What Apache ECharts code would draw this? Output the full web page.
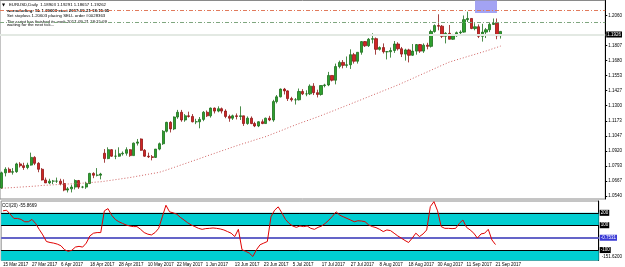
<!DOCTYPE html>
<html><head><meta charset="utf-8">
<script src="https://cdn.jsdelivr.net/npm/echarts@6/dist/echarts.min.js"></script>
<style>html,body{margin:0;padding:0;background:#fff;}#c{width:625px;height:267px;}</style>
</head><body><div id="c"></div>
<script>
const dates = [
'15 Mar 2017','16 Mar 2017','17 Mar 2017','20 Mar 2017','21 Mar 2017','22 Mar 2017','23 Mar 2017','24 Mar 2017','27 Mar 2017','28 Mar 2017','29 Mar 2017','30 Mar 2017','31 Mar 2017',
'3 Apr 2017','4 Apr 2017','5 Apr 2017','6 Apr 2017','7 Apr 2017','10 Apr 2017','11 Apr 2017','12 Apr 2017','13 Apr 2017','14 Apr 2017','17 Apr 2017','18 Apr 2017','19 Apr 2017','20 Apr 2017','21 Apr 2017','24 Apr 2017','25 Apr 2017','26 Apr 2017','27 Apr 2017','28 Apr 2017',
'1 May 2017','2 May 2017','3 May 2017','4 May 2017','5 May 2017','8 May 2017','9 May 2017','10 May 2017','11 May 2017','12 May 2017','15 May 2017','16 May 2017','17 May 2017','18 May 2017','19 May 2017','22 May 2017','23 May 2017','24 May 2017','25 May 2017','26 May 2017','29 May 2017','30 May 2017','31 May 2017',
'1 Jun 2017','2 Jun 2017','5 Jun 2017','6 Jun 2017','7 Jun 2017','8 Jun 2017','9 Jun 2017','12 Jun 2017','13 Jun 2017','14 Jun 2017','15 Jun 2017','16 Jun 2017','19 Jun 2017','20 Jun 2017','21 Jun 2017','22 Jun 2017','23 Jun 2017','26 Jun 2017','27 Jun 2017','28 Jun 2017','29 Jun 2017','30 Jun 2017',
'3 Jul 2017','4 Jul 2017','5 Jul 2017','6 Jul 2017','7 Jul 2017','10 Jul 2017','11 Jul 2017','12 Jul 2017','13 Jul 2017','14 Jul 2017','17 Jul 2017','18 Jul 2017','19 Jul 2017','20 Jul 2017','21 Jul 2017','24 Jul 2017','25 Jul 2017','26 Jul 2017','27 Jul 2017','28 Jul 2017','31 Jul 2017',
'1 Aug 2017','2 Aug 2017','3 Aug 2017','4 Aug 2017','7 Aug 2017','8 Aug 2017','9 Aug 2017','10 Aug 2017','11 Aug 2017','14 Aug 2017','15 Aug 2017','16 Aug 2017','17 Aug 2017','18 Aug 2017','21 Aug 2017','22 Aug 2017','23 Aug 2017','24 Aug 2017','25 Aug 2017','28 Aug 2017','29 Aug 2017','30 Aug 2017','31 Aug 2017',
'1 Sep 2017','4 Sep 2017','5 Sep 2017','6 Sep 2017','7 Sep 2017','8 Sep 2017','11 Sep 2017','12 Sep 2017','13 Sep 2017','14 Sep 2017','15 Sep 2017','18 Sep 2017','19 Sep 2017','20 Sep 2017','21 Sep 2017'];

const opens = [
1.0607,1.0735,1.0765,1.0740,1.0745,1.0810,1.0795,1.0780,1.0800,1.0865,1.0815,1.0765,1.0675,
1.0650,1.0665,1.0665,1.0665,1.0645,1.0590,1.0600,1.0615,1.0670,1.0615,1.0615,1.0645,1.0730,1.0715,1.0715,1.0900,1.0855,1.0930,1.0875,1.0875,
1.0895,1.0900,1.0930,1.0880,1.0985,1.1020,1.0925,1.0875,1.0870,1.0865,1.0935,1.0980,1.1085,1.1160,1.1105,1.1205,1.1245,1.1180,1.1215,1.1210,1.1165,1.1165,1.1185,
1.1245,1.1215,1.1280,1.1255,1.1275,1.1255,1.1210,1.1195,1.1215,1.1210,1.1215,1.1150,1.1195,1.1150,1.1130,1.1165,1.1150,1.1195,1.1180,1.1335,1.1375,1.1440,
1.1425,1.1360,1.1350,1.1350,1.1420,1.1400,1.1400,1.1465,1.1410,1.1395,1.1470,1.1475,1.1555,1.1515,1.1630,1.1665,1.1640,1.1645,1.1730,1.1675,1.1750,
1.1840,1.1805,1.1860,1.1865,1.1775,1.1790,1.1755,1.1755,1.1765,1.1820,1.1780,1.1735,1.1770,1.1725,1.1760,1.1815,1.1760,1.1810,1.1800,1.1925,1.1975,1.1970,1.1885,
1.1910,1.1860,1.1890,1.1915,1.1920,1.2025,1.2035,1.1950,1.1965,1.1885,1.1920,1.1940,1.1985,1.1995,1.18903];
const highs = [
1.0745,1.0782,1.0780,1.0775,1.0820,1.0825,1.0820,1.0820,1.0905,1.0875,1.0825,1.0775,1.0695,
1.0685,1.0675,1.0695,1.0685,1.0680,1.0615,1.0635,1.0680,1.0675,1.0625,1.0660,1.0735,1.0740,1.0775,1.0735,1.0935,1.0950,1.0935,1.0930,1.0950,
1.0915,1.0950,1.0935,1.0990,1.1020,1.1025,1.0935,1.0905,1.0885,1.0935,1.0990,1.1095,1.1165,1.1170,1.1210,1.1265,1.1265,1.1230,1.1250,1.1230,1.1190,1.1205,1.1255,
1.1260,1.1285,1.1285,1.1295,1.1285,1.1270,1.1225,1.1225,1.1235,1.1295,1.1215,1.1210,1.1210,1.1165,1.1170,1.1185,1.1200,1.1215,1.1350,1.1390,1.1445,1.1450,
1.1430,1.1375,1.1365,1.1445,1.1440,1.1430,1.1480,1.1490,1.1435,1.1470,1.1485,1.1585,1.1555,1.1655,1.1680,1.1685,1.1715,1.1775,1.1745,1.1750,1.1845,
1.1845,1.1870,1.1910,1.1875,1.1800,1.1825,1.1760,1.1790,1.1845,1.1835,1.1795,1.1780,1.1780,1.1820,1.1820,1.1820,1.1825,1.1830,1.1940,1.1985,1.2070,1.1980,1.1920,
1.1980,1.1905,1.1925,1.1935,1.2060,1.2092,1.2035,1.1995,1.1985,1.1990,1.1955,1.2000,1.2035,1.2035,1.19291];
const lows = [
1.0600,1.0705,1.0735,1.0720,1.0735,1.0780,1.0760,1.0765,1.0795,1.0800,1.0740,1.0670,1.0650,
1.0640,1.0640,1.0650,1.0630,1.0580,1.0570,1.0570,1.0595,1.0600,1.0605,1.0600,1.0640,1.0690,1.0705,1.0680,1.0820,1.0850,1.0870,1.0850,1.0870,
1.0880,1.0880,1.0870,1.0880,1.0965,1.0920,1.0870,1.0860,1.0840,1.0860,1.0925,1.0970,1.1075,1.1075,1.1095,1.1190,1.1165,1.1165,1.1200,1.1160,1.1145,1.1110,1.1170,
1.1205,1.1200,1.1235,1.1245,1.1235,1.1195,1.1165,1.1180,1.1185,1.1180,1.1130,1.1140,1.1145,1.1120,1.1120,1.1145,1.1150,1.1170,1.1165,1.1320,1.1370,1.1395,
1.1340,1.1335,1.1310,1.1345,1.1390,1.1380,1.1390,1.1390,1.1370,1.1385,1.1455,1.1465,1.1505,1.1480,1.1615,1.1615,1.1620,1.1610,1.1655,1.1655,1.1730,
1.1795,1.1795,1.1825,1.1730,1.1765,1.1740,1.1690,1.1705,1.1745,1.1765,1.1710,1.1680,1.1665,1.1720,1.1730,1.1745,1.1745,1.1775,1.1790,1.1915,1.1935,1.1870,1.1825,
1.1860,1.1855,1.1880,1.1895,1.1915,1.2005,1.1945,1.1935,1.1870,1.1840,1.1870,1.1920,1.1980,1.1860,1.18657];
const closes = [
1.0735,1.0765,1.0740,1.0745,1.0810,1.0795,1.0780,1.0800,1.0865,1.0815,1.0765,1.0675,1.0650,
1.0665,1.0665,1.0665,1.0645,1.0590,1.0600,1.0615,1.0670,1.0615,1.0615,1.0645,1.0730,1.0715,1.0715,1.0725,1.0855,1.0930,1.0875,1.0875,1.0895,
1.0900,1.0930,1.0880,1.0985,1.0995,1.0925,1.0875,1.0870,1.0865,1.0935,1.0980,1.1085,1.1160,1.1105,1.1205,1.1245,1.1180,1.1215,1.1210,1.1165,1.1165,1.1185,1.1245,
1.1215,1.1280,1.1255,1.1275,1.1255,1.1210,1.1195,1.1215,1.1210,1.1215,1.1150,1.1195,1.1150,1.1130,1.1165,1.1150,1.1195,1.1180,1.1335,1.1375,1.1440,1.1425,
1.1360,1.1350,1.1350,1.1420,1.1400,1.1400,1.1465,1.1410,1.1395,1.1470,1.1475,1.1555,1.1515,1.1630,1.1665,1.1640,1.1645,1.1730,1.1675,1.1750,1.1840,
1.1805,1.1860,1.1865,1.1775,1.1790,1.1755,1.1755,1.1765,1.1820,1.1780,1.1735,1.1770,1.1725,1.1760,1.1815,1.1760,1.1810,1.1800,1.1925,1.1975,1.1970,1.1885,1.1910,
1.1860,1.1890,1.1915,1.1920,1.2025,1.2035,1.1950,1.1965,1.1885,1.1920,1.1940,1.1985,1.1995,1.1890,1.19262];

const maValues = [
1.0605,1.0607,1.0609,1.0611,1.0613,1.0615,1.0617,1.0619,1.0621,1.0623,1.0626,1.0629,
1.0631,1.0632,1.0634,1.0636,1.0638,1.0639,1.0641,1.0643,1.0644,1.0646,1.0648,
1.0650,1.0653,1.0655,1.0658,1.0660,
1.0664,1.0669,1.0673,1.0678,1.0682,1.0687,1.0691,1.0696,
1.0701,1.0707,1.0712,1.0718,1.0723,1.0729,1.0734,1.0740,
1.0750,1.0760,1.0771,1.0781,1.0792,1.0803,1.0813,1.0824,1.0835,1.0845,1.0856,
1.0867,1.0878,1.0889,1.0899,1.0910,1.0921,1.0931,1.0942,1.0953,
1.0963,1.0973,1.0983,1.0992,1.1002,1.1012,1.1022,1.1031,1.1041,
1.1053,1.1065,1.1077,1.1089,1.1101,1.1114,1.1126,1.1138,1.1150,
1.1161,1.1172,1.1183,1.1194,1.1205,
1.1217,1.1229,1.1241,1.1253,1.1265,1.1278,1.1290,1.1302,
1.1314,1.1327,1.1339,1.1351,1.1364,1.1376,1.1389,1.1401,1.1413,1.1426,1.1438,1.1450,1.1463,1.1475,
1.1489,1.1503,1.1516,1.1530,1.1544,1.1558,1.1572,1.1585,1.1599,1.1613,1.1627,1.1641,1.1654,1.1668,
1.1677,1.1687,1.1696,1.1705,1.1715,1.1724,1.1733,1.1742,1.1752,1.1761,
1.1771,1.1782,1.1792,1.1803];

const cciValues = [
216,221,189,155,155,147,128,128,147,115,
67,22,-31,-39,-44,-52,-65,-97,-110,-102,
-76,-70,-76,-44,14,36,41,41,216,234,
181,147,128,115,102,94,89,89,67,41,
28,22,41,75,168,261,208,200,189,163,
142,120,102,89,75,67,73,75,78,75,
70,62,49,36,9,67,-97,-110,-124,-151.62,
-97,-57,-44,-31,168,221,248,200,147,115,
94,83,94,89,94,75,67,83,94,115,
142,173,208,181,168,155,142,128,136,134,
128,102,89,81,67,49,62,57,36,14,
-4,-23,-39,-4,36,9,30,62,250,290,
216,89,75,75,73,75,115,142,83,62,
36,-4,30,36,67,-18,-55.8669];

const priceTicks = [1.0540,1.0667,1.0793,1.0920,1.1047,1.1173,1.1300,1.1427,1.1553,1.1680,1.1807,1.2060];
const cciLevels = [200, 100, -100];
const cciBlueLevel = -0.7531;
const cciMaxLabel = 295.2812;
const cciMinLabel = -151.62;
const slLevel = 1.20603;
const greenLevel = 1.1950;
const bidLevel = 1.19262;
const boxLow = 1.2081;

const PRICE_MIN = 1.05147, PRICE_MAX = 1.21863;
const CCI_MIN = -184, CCI_MAX = 295.28;
const PAD = 28;
const cats = dates.concat(Array.from({length: PAD}, (_, i) => 'pad' + i));
const candles = opens.map((o, i) => [o, closes[i], lows[i], highs[i]]);
const FONT = 'Liberation Sans';
const FS = 4.5;

const boxLabel = (txt, bg) => ({show: true, position: 'end', distance: 1, formatter: txt,
  backgroundColor: bg, color: '#fff', fontSize: FS, fontFamily: FONT, padding: [1, 1, 0, 1]});

const chart = echarts.init(document.getElementById('c'), null, {renderer: 'canvas'});
chart.setOption({
  animation: false,
  backgroundColor: '#fff',
  grid: [
    {left: 0, top: 0.5, width: 609, height: 198.5, show: true, borderColor: '#8a8a8a', borderWidth: 1},
    {left: 0, top: 201, width: 609, height: 60, show: true, borderColor: '#8a8a8a', borderWidth: 1}
  ],
  xAxis: [
    {type: 'category', gridIndex: 0, data: cats, axisLine: {show: false}, axisTick: {show: false}, axisLabel: {show: false}, splitLine: {show: false}},
    {type: 'category', gridIndex: 1, data: cats, axisLine: {show: false}, axisTick: {show: false}, splitLine: {show: false},
     axisLabel: {show: true, interval: (i) => i % 8 === 0 && i < dates.length, align: 'left', fontSize: FS, fontFamily: FONT, color: '#000', margin: 1.5}}
  ],
  yAxis: [
    {type: 'value', gridIndex: 0, position: 'right', min: PRICE_MIN, max: PRICE_MAX, splitLine: {show: false},
     axisLine: {show: true, lineStyle: {color: '#000', width: 1}},
     axisTick: {show: true, length: 2, customValues: priceTicks, lineStyle: {color: '#000'}},
     axisLabel: {customValues: priceTicks, formatter: v => v.toFixed(4), fontSize: FS, fontFamily: FONT, color: '#000', margin: 3}},
    {type: 'value', gridIndex: 1, position: 'right', min: CCI_MIN, max: CCI_MAX, splitLine: {show: false},
     axisLine: {show: true, lineStyle: {color: '#000', width: 1}},
     axisTick: {show: false},
     axisLabel: {customValues: [cciMinLabel], formatter: v => v.toFixed(4), fontSize: FS, fontFamily: FONT, color: '#000', margin: 3}},
    {type: 'value', gridIndex: 1, position: 'right', min: CCI_MIN, max: CCI_MAX, splitLine: {show: false},
     axisLine: {show: false}, axisTick: {show: false},
     axisLabel: {customValues: [cciMaxLabel], formatter: v => v.toFixed(4), verticalAlign: 'top', fontSize: FS, fontFamily: FONT, color: '#000', margin: 3}}
  ],
  series: [
    {type: 'candlestick', xAxisIndex: 0, yAxisIndex: 0, data: candles, barWidth: 2.6,
     itemStyle: {color: '#2ea02e', color0: '#d02424', borderColor: '#1c6e1c', borderColor0: '#8e1414', borderWidth: 0.8},
     markArea: {silent: true, itemStyle: {color: '#a3a3f3'},
       data: [[{coord: [dates[129], boxLow]}, {coord: [dates[135], PRICE_MAX]}]]},
     markLine: {silent: true, symbol: ['none', 'none'], animation: false,
       data: [
         {yAxis: bidLevel, lineStyle: {color: '#e3e9e3', width: 2, type: 'solid'}, label: boxLabel('1.1926', '#000')},
         {yAxis: slLevel, lineStyle: {color: '#e27a5c', width: 1, type: [4, 2, 1, 2]}, label: {show: false}},
         {yAxis: greenLevel, lineStyle: {color: '#7fa67f', width: 1, type: [4, 2, 1, 2]}, label: {show: false}}
       ]}},
    {type: 'line', xAxisIndex: 0, yAxisIndex: 0, data: maValues, showSymbol: false, symbol: 'none',
     lineStyle: {color: '#d06262', width: 1, type: [1, 2]}},
    {type: 'line', xAxisIndex: 1, yAxisIndex: 1, data: cciValues, showSymbol: false, symbol: 'none',
     lineStyle: {color: '#e00000', width: 1}, z: 5,
     markArea: {silent: true, itemStyle: {color: '#00ced1'},
       data: [[{yAxis: 100}, {yAxis: 200}], [{yAxis: CCI_MIN}, {yAxis: -100}]]},
     markLine: {silent: true, symbol: ['none', 'none'], animation: false,
       data: [
         {yAxis: cciLevels[0], lineStyle: {color: '#000', width: 1, type: 'solid'}, label: boxLabel('200', '#000')},
         {yAxis: cciLevels[1], lineStyle: {color: '#000', width: 1, type: 'solid'}, label: boxLabel('100', '#000')},
         {yAxis: cciBlueLevel, lineStyle: {color: '#6464c8', width: 2, type: 'solid'}, label: boxLabel('-0.7531', '#3b3bd6')},
         {yAxis: cciLevels[2], lineStyle: {color: '#000', width: 1, type: 'solid'}, label: boxLabel('-100', '#000')}
       ]}}
  ],
  graphic: [
    {type: 'text', x: 2, y: 5, style: {text: '▼', fontSize: 4, fontFamily: 'DejaVu Sans', fill: '#000', verticalAlign: 'middle'}},
    {type: 'text', x: 9, y: 5, style: {text: 'EURUSD,Daily  1.18903 1.19291 1.18657 1.19262', fontSize: 4.3, fontFamily: FONT, fill: '#000', verticalAlign: 'middle'}},
    {type: 'text', x: 7, y: 11, style: {text: 'warnaholing: SL 1.20603 start 2017-09-21 18:15:05', fontSize: 4.3, fontFamily: FONT, fontWeight: 'bold', fill: '#000', verticalAlign: 'middle'}},
    {type: 'text', x: 7, y: 16, style: {text: 'Set stoploss 1.20603 placing SELL order #0028363', fontSize: 4.3, fontFamily: FONT, fill: '#000', verticalAlign: 'middle'}},
    {type: 'text', x: 7, y: 22, style: {text: 'The script has finished its work 2017-09-21 18:15:09', fontSize: 4.3, fontFamily: FONT, fill: '#000', verticalAlign: 'middle'}},
    {type: 'text', x: 7, y: 25, style: {text: 'waiting for the next tick...', fontSize: 4.3, fontFamily: FONT, fill: '#000', verticalAlign: 'middle'}},
    {type: 'text', x: 2, y: 205.5, style: {text: 'CCI(20) -55.8669', fontSize: FS, fontFamily: FONT, fill: '#000', verticalAlign: 'middle'}}
  ]
});
</script></body></html>
